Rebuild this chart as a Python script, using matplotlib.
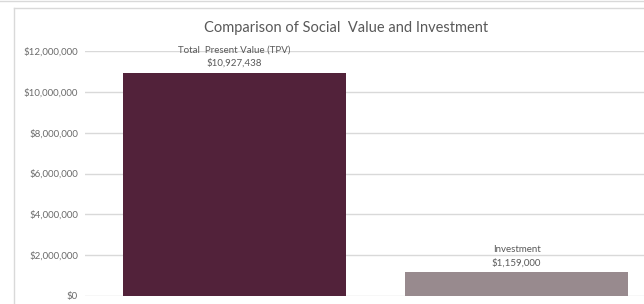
import matplotlib.pyplot as plt
from matplotlib.lines import Line2D
from matplotlib.ticker import FuncFormatter

categories = ["Total  Present Value (TPV)", "Investment"]
values = [10927438, 1159000]
colors = ["#52223A", "#988A8E"]
yticks = [0, 2000000, 4000000, 6000000, 8000000, 10000000, 12000000]

plt.rcParams['font.family'] = ['Lato', 'DejaVu Sans']

W, H = 644, 304
fig = plt.figure(figsize=(W / 100, H / 100), dpi=100)

# chart frame (cropped Excel chart)
fig.add_artist(Line2D([0, 1], [1 - 1 / H, 1 - 1 / H], color="#d9d9d9", lw=1))
fig.add_artist(Line2D([14 / W, 1], [1 - 8 / H, 1 - 8 / H], color="#d9d9d9", lw=1))
fig.add_artist(Line2D([14 / W, 14 / W], [0, 1 - 8 / H], color="#d9d9d9", lw=1))

x0, x1 = 85, 644
y0, y1 = 296, 51
ax = fig.add_axes([x0 / W, 1 - y0 / H, (x1 - x0) / W, (y0 - y1) / H])

pos = [0, 1]
bars = ax.bar(pos, values, width=0.79, color=colors, zorder=2)
ax.set_xlim(-0.53, 1.452)
ax.set_ylim(0, 12000000)
ax.set_yticks(yticks)
ax.yaxis.set_major_formatter(FuncFormatter(lambda v, p: f"${v:,.0f}"))
ax.tick_params(axis='y', length=0, pad=5, labelsize=7, labelcolor="#6b6b6b")
ax.set_xticks([])
ax.grid(axis='y', color="#d9d9d9", lw=1, zorder=0)
for s in ax.spines.values():
    s.set_visible(False)

for b, name, v in zip(bars, categories, values):
    cx = b.get_x() + b.get_width() / 2
    ax.annotate(f"${v:,.0f}", (cx, v), xytext=(0, 3.5), textcoords="offset points",
                ha="center", va="bottom", fontsize=7, color="#595959")
    ax.annotate(name, (cx, v), xytext=(0, 13.5), textcoords="offset points",
                ha="center", va="bottom", fontsize=7, color="#595959")

fig.text(346 / W, 1 - 28 / H, "Comparison of Social  Value and Investment",
         ha="center", va="center", fontsize=10.5, color="#595959")

fig.savefig("out.png", dpi=100)
